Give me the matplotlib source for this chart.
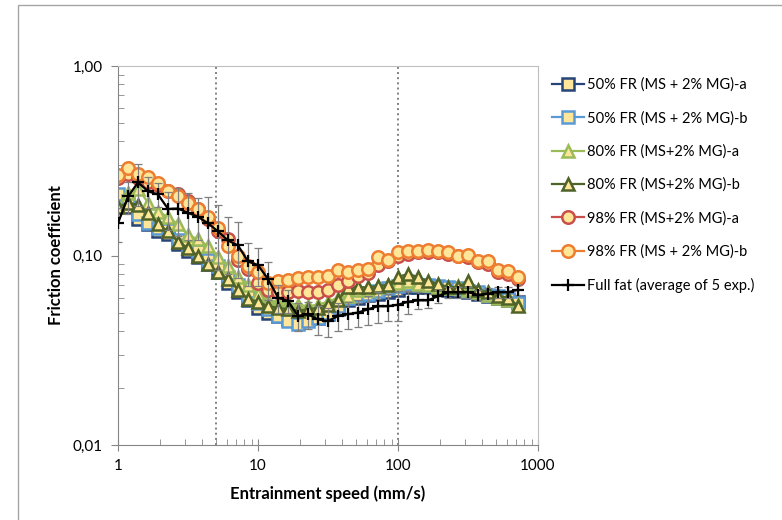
import matplotlib.pyplot as plt
from matplotlib.patches import Rectangle
from matplotlib.ticker import FixedLocator, LogLocator, NullFormatter

plt.rcParams['font.family'] = ['Lato', 'DejaVu Sans']

# entrainment speeds (mm/s), 14 steps per decade
speed = [1.00, 1.18, 1.39, 1.64, 1.93, 2.28, 2.68, 3.16, 3.73, 4.39,
         5.18, 6.11, 7.20, 8.48, 10.0, 11.8, 13.9, 16.4, 19.3, 22.8,
         26.8, 31.6, 37.3, 43.9, 51.8, 61.1, 72.0, 84.8, 100, 118,
         139, 164, 193, 228, 268, 316, 373, 439, 518, 611, 720]

fr50_a = [0.195, 0.180, 0.155, 0.146, 0.135, 0.130, 0.115, 0.105, 0.098, 0.090,
          0.082, 0.072, 0.064, 0.058, 0.053, 0.050, 0.048, 0.046, 0.045, 0.046,
          0.047, 0.049, 0.052, 0.058, 0.060, 0.062, 0.063, 0.064, 0.066, 0.068,
          0.068, 0.068, 0.067, 0.066, 0.065, 0.064, 0.063, 0.061, 0.060, 0.058, 0.057]
fr50_b = [0.210, 0.195, 0.165, 0.149, 0.140, 0.137, 0.120, 0.114, 0.105, 0.095,
          0.088, 0.077, 0.070, 0.061, 0.056, 0.052, 0.048, 0.045, 0.0435, 0.045,
          0.047, 0.050, 0.054, 0.060, 0.062, 0.063, 0.065, 0.067, 0.069, 0.071,
          0.070, 0.070, 0.069, 0.068, 0.067, 0.065, 0.064, 0.062, 0.061, 0.059, 0.056]
fr80_a = [0.180, 0.215, 0.225, 0.190, 0.170, 0.160, 0.146, 0.128, 0.122, 0.112,
          0.098, 0.088, 0.077, 0.070, 0.063, 0.058, 0.057, 0.056, 0.055, 0.054,
          0.055, 0.057, 0.060, 0.061, 0.066, 0.066, 0.068, 0.070, 0.072, 0.073,
          0.071, 0.070, 0.068, 0.067, 0.069, 0.066, 0.064, 0.062, 0.060, 0.058, 0.055]
fr80_b = [0.180, 0.190, 0.185, 0.168, 0.146, 0.134, 0.118, 0.110, 0.099, 0.090,
          0.082, 0.075, 0.066, 0.059, 0.057, 0.054, 0.053, 0.052, 0.051, 0.052,
          0.053, 0.055, 0.058, 0.068, 0.068, 0.068, 0.069, 0.070, 0.077, 0.080,
          0.077, 0.073, 0.071, 0.068, 0.068, 0.073, 0.066, 0.064, 0.061, 0.060, 0.054]
fr98_a = [0.255, 0.270, 0.255, 0.245, 0.235, 0.220, 0.210, 0.195, 0.175, 0.155,
          0.135, 0.122, 0.095, 0.085, 0.072, 0.066, 0.064, 0.064, 0.065, 0.064,
          0.064, 0.066, 0.070, 0.073, 0.078, 0.081, 0.089, 0.093, 0.100, 0.102,
          0.104, 0.104, 0.104, 0.102, 0.099, 0.098, 0.092, 0.090, 0.082, 0.080, 0.075]
fr98_b = [0.265, 0.290, 0.270, 0.260, 0.240, 0.218, 0.205, 0.190, 0.175, 0.160,
          0.140, 0.112, 0.100, 0.088, 0.082, 0.072, 0.073, 0.074, 0.076, 0.077,
          0.077, 0.078, 0.084, 0.082, 0.084, 0.085, 0.098, 0.095, 0.104, 0.105,
          0.106, 0.107, 0.106, 0.104, 0.100, 0.101, 0.093, 0.093, 0.084, 0.083, 0.077]
full_fat = [0.148, 0.205, 0.243, 0.218, 0.210, 0.176, 0.177, 0.168, 0.160, 0.148,
            0.134, 0.120, 0.113, 0.093, 0.089, 0.075, 0.060, 0.0575, 0.048, 0.049,
            0.046, 0.045, 0.048, 0.049, 0.050, 0.052, 0.054, 0.054, 0.055, 0.057,
            0.058, 0.058, 0.061, 0.064, 0.064, 0.064, 0.062, 0.063, 0.064, 0.064, 0.066]
full_fat_err = [0.030, 0.040, 0.060, 0.040, 0.030, 0.040, 0.050, 0.047, 0.040, 0.055,
                0.050, 0.040, 0.037, 0.024, 0.020, 0.017, 0.010, 0.008, 0.008, 0.008,
                0.008, 0.008, 0.008, 0.008, 0.008, 0.009, 0.010, 0.009, 0.010, 0.008,
                0.006, 0.005, 0.005, 0.004, 0.004, 0.004, 0.004, 0.004, 0.004, 0.004, 0.004]

series = [
    ('50% FR (MS + 2% MG)-a', fr50_a, 's', '#264478', 8),
    ('50% FR (MS + 2% MG)-b', fr50_b, 's', '#5B9BD5', 8),
    ('80% FR (MS+2% MG)-a', fr80_a, '^', '#9BBB59', 9),
    ('80% FR (MS+2% MG)-b', fr80_b, '^', '#4F6228', 9),
    ('98% FR (MS+2% MG)-a', fr98_a, 'o', '#C9504A', 9),
    ('98% FR (MS + 2% MG)-b', fr98_b, 'o', '#ED7D31', 9),
]
fill = '#FFE699'

fig = plt.figure(figsize=(7.82, 5.2), dpi=100)
ax = fig.add_axes([118 / 782, 1 - 445 / 520, 420 / 782, 379 / 520])

# chart border
fig.patches.append(Rectangle((18 / 782, -0.1), 1.2, 1 - 5 / 520 + 0.1,
                             transform=fig.transFigure, fill=False,
                             edgecolor='#A6A6A6', lw=1.0))

for lab, y, mk, col, ms in series:
    ax.plot(speed, y, marker=mk, color=col, mfc=fill, mec=col, ms=ms,
            mew=1.8, lw=1.6, label=lab)

ax.errorbar(speed, full_fat, yerr=full_fat_err, fmt='none', ecolor='#7F7F7F',
            elinewidth=0.9, capsize=3, capthick=0.9, zorder=5)
ax.plot(speed, full_fat, color='black', marker='+', ms=9, mew=1.6, lw=1.6,
        label='Full fat (average of 5 exp.)', zorder=6)

for xv in (5, 100):
    ax.axvline(xv, color='#808080', ls=':', lw=1.4, zorder=1)

ax.set_xscale('log')
ax.set_yscale('log')
ax.set_xlim(1, 1000)
ax.set_ylim(0.01, 1)

ax.xaxis.set_major_locator(FixedLocator([1, 10, 100, 1000]))
ax.set_xticklabels(['1', '10', '100', '1000'])
ax.xaxis.set_minor_locator(LogLocator(base=10, subs=range(2, 10)))
ax.xaxis.set_minor_formatter(NullFormatter())
ax.yaxis.set_major_locator(FixedLocator([0.01, 0.1, 1]))
ax.set_yticklabels(['0,01', '0,10', '1,00'])
ax.yaxis.set_minor_locator(LogLocator(base=10, subs=range(2, 10)))
ax.yaxis.set_minor_formatter(NullFormatter())

ax.tick_params(axis='x', which='major', direction='inout', length=8,
               color='#868686', labelsize=11, pad=6)
ax.tick_params(axis='y', which='major', direction='out', length=5,
               color='#868686', labelsize=11, pad=6)
ax.tick_params(which='minor', direction='in', length=4, color='#868686')

for side in ('left', 'bottom'):
    ax.spines[side].set_color('#868686')
for side in ('top', 'right'):
    ax.spines[side].set_color('#BFBFBF')

ax.set_xlabel('Entrainment speed (mm/s)', fontsize=12, fontweight='bold', labelpad=9)
ax.set_ylabel('Friction coefficient', fontsize=12, fontweight='bold', labelpad=6)

ax.legend(loc='upper left', bbox_to_anchor=(546 / 782, 1 - 72 / 520),
          bbox_transform=fig.transFigure, frameon=False, fontsize=10.5,
          labelspacing=1.3, handlelength=2.2, handletextpad=0.2,
          borderaxespad=0)

fig.savefig('out.png', dpi=100)
